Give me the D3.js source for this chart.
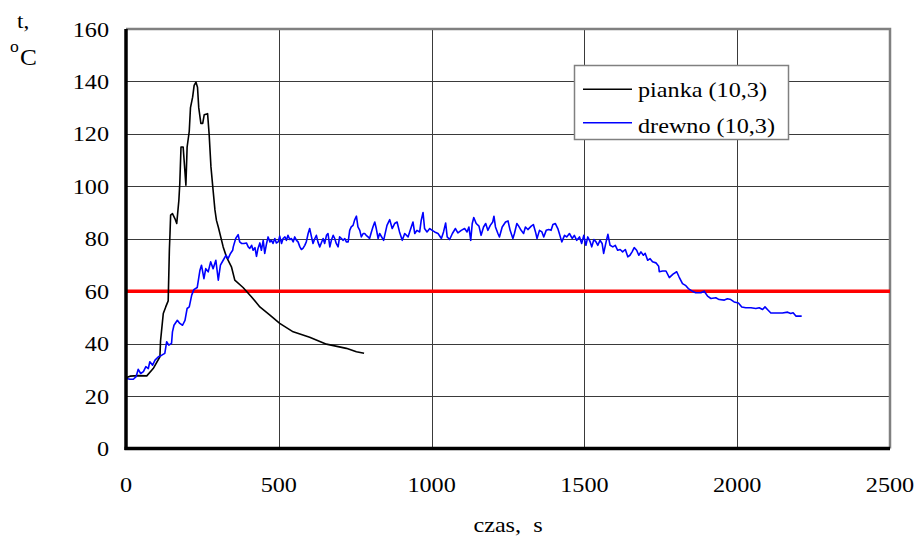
<!DOCTYPE html>
<html>
<head>
<meta charset="utf-8">
<script src="https://cdn.jsdelivr.net/npm/d3@7"></script>
<style>
  html, body { margin: 0; padding: 0; background: #fff; }
  svg { display: block; }
  text { font-family: "Liberation Serif", "Times New Roman", serif; fill: #000; }
</style>
</head>
<body>
<svg id="chart" width="919" height="536"></svg>
<script>
// Temperature over time for two samples, with the 60 °C limit line.
const xTicks = [0, 500, 1000, 1500, 2000, 2500];
const yTicks = [0, 20, 40, 60, 80, 100, 120, 140, 160];
const limitValue = 60;
const seriesNames = ["pianka (10,3)", "drewno (10,3)"];

// pianka (10,3): [time s, temperature °C]
const piankaTime = [0, 13, 40, 68, 89, 111, 113, 116, 122, 130, 138, 140, 142, 144, 146, 152, 160, 166, 169, 173, 176, 180, 187, 193, 196, 200, 207, 211, 218, 223, 229, 234, 238, 245, 251, 256, 267, 272, 278, 285, 291, 296, 302, 318, 329, 345, 356, 383, 411, 438, 471, 503, 547, 601, 656, 721, 754, 779];
const piankaTemp = [27, 27.6, 27.8, 27.7, 30.5, 35, 41, 44.5, 51.5, 54, 56.3, 66, 76, 82, 89, 89.6, 87.7, 85.8, 89.6, 94.7, 101, 115, 115, 105.4, 100.4, 115, 121, 130, 134, 138.5, 139.7, 137.8, 130, 124, 124, 127.3, 127.7, 120, 107.4, 98.5, 91, 87, 84.5, 76.9, 73, 69.3, 64.2, 61.4, 57.8, 54, 50.9, 47.7, 44.5, 42.4, 39.8, 38.2, 36.9, 36.3];

// drewno (10,3): [time s, temperature °C]
const drewnoTime = [2, 13, 24, 33, 40, 48, 57, 65, 73, 78, 87, 95, 106, 117, 127, 133, 140, 149, 152, 157, 168, 176, 185, 193, 200, 207, 215, 222, 233, 242, 247, 255, 261, 269, 277, 285, 294, 302, 309, 318, 327, 334, 342, 349,
  351, 359, 367, 372, 378, 386, 394, 400, 405, 411, 416, 422, 427, 432, 438, 443, 449, 454, 460, 465, 471, 476, 481, 487, 492, 498, 503, 509, 514, 520, 525, 530, 536, 541, 547, 552, 558, 563, 569, 574, 579, 585, 590, 596, 601, 607, 612, 618, 623, 628, 634, 639, 645, 650, 656, 661, 667, 672, 678, 683, 688, 694, 699, 705, 710, 716, 721, 727, 732, 737, 743, 748, 754, 759, 765, 770, 776, 781, 786, 792, 797, 803, 808, 814, 819, 825,
  830, 843, 854, 863, 871, 879, 887, 895, 904, 912, 923, 930, 939, 945, 952, 961, 966, 972, 977, 985, 994, 1002, 1010, 1021, 1032, 1039, 1046, 1051, 1059, 1068, 1078, 1086, 1097, 1108, 1116, 1122, 1128, 1133, 1138, 1146, 1155, 1162, 1170, 1177, 1184, 1192, 1200, 1204, 1209, 1217, 1222, 1231, 1242, 1250, 1257, 1266, 1271, 1279, 1285, 1293, 1301, 1307, 1315, 1326, 1333, 1340, 1345, 1353, 1361, 1367, 1375, 1383, 1391, 1397, 1405, 1413, 1418, 1426, 1435, 1442, 1451, 1460, 1467, 1475, 1484, 1491, 1498, 1505, 1511, 1519, 1524, 1531, 1538, 1544, 1551, 1558, 1563, 1571, 1577, 1584, 1593, 1601, 1609, 1617, 1625, 1634, 1642, 1649, 1656, 1663, 1671, 1678, 1685, 1693, 1699, 1707, 1715, 1723, 1734, 1743,
  1745, 1756, 1767, 1778, 1790, 1802, 1810, 1821, 1832, 1840, 1853, 1864, 1881, 1892, 1903, 1914, 1930, 1941, 1958, 1968, 1979, 1990, 2004, 2015, 2028, 2045, 2061, 2072, 2083, 2091, 2099, 2110, 2132, 2148, 2165, 2175, 2183, 2192, 2211];
const drewnoTemp = [26.7, 26.4, 26.4, 27.4, 30.2, 28.6, 29.3, 31.2, 30.5, 33.1, 31.8, 33.7, 35, 35.6, 36.3, 40.7, 39.4, 40.1, 44.5, 47, 48.9, 47.7, 47, 48.9, 53.4, 54, 58.5, 60.6, 61.4, 68, 69.9, 64.8, 68.6, 67.4, 71.2, 68.6, 71.8, 64.2, 69.9, 71.8, 73.7, 72.4, 74.4, 75.6,
  76.9, 80.1, 81.6, 78.8, 78.2, 78.2, 78.4, 76.9, 76.3, 77.5, 75.6, 76.6, 73.3, 76.3, 78.4, 75.6, 79.4, 74.4, 78.2, 80.7, 78.8, 79.4, 78.2, 80.1, 78.4, 78.8, 81, 78.2, 80.1, 80.7, 79.4, 81.3, 79.7, 80.1, 78.8, 80.7, 79.4, 78.8, 76.9, 75.9, 76.3, 77.5, 78.8, 82, 83.9, 80.7, 78.2, 80.1, 81.3, 78.8, 76.9, 78.4, 80.1, 78.2, 81.3, 82, 76.9, 79.4, 81.3, 80.1, 78.2, 76.9, 80.7, 80.1, 79.4, 80.1, 78.8, 78.8, 83.2, 84.5, 85.1, 87.1, 88.6, 84.5, 83.2, 80.7, 82, 82, 81.3, 80.7, 80.1, 82.6, 84.5, 86.4, 83.9, 80.1,
  82, 79.4, 85.1, 87.3, 83.9, 85.8, 86.4, 82.6, 79.4, 82, 80.7, 83.2, 86.4, 82, 83.2, 82.6, 87, 90, 83.9, 82.6, 83.9, 83.2, 82.6, 82, 80.1, 82.6, 86, 80.7, 79.7, 82, 83.9, 82.2, 83.2, 83.9, 82.6, 84.5, 79.4, 85.8, 88.1, 85.8, 84.8, 81.3, 84.5, 85.8, 83.2, 85.1, 86.4, 88.6, 84.5, 82, 80.7, 84.5, 86.4, 86.8, 83.2, 80.1, 82, 85.8, 84.8, 83.2, 82, 84.5, 83.5, 84.8, 85.4, 82.6, 80.1, 83.2, 82.6, 80.7, 83.2, 83.5, 83.2, 85.4, 85.8, 83.9, 82, 78.8, 81.3, 80.7, 82, 80.1, 81.3, 79.4, 80.7, 78.2, 81.3, 77.5, 80.7, 78.8, 76.9, 79.7, 78.8, 77.5, 79.4, 78.2, 74.4, 78.8, 81.7, 77.5, 76.9, 77.5, 75.6, 75.9, 75, 75.9, 73.1, 73.7, 75, 76.6, 75.6, 73.7, 75, 73.7, 74.4, 71.8, 72.4, 71.2, 70.8, 69.5,
  67.4, 67.7, 67.7, 65.2, 66.5, 67.4, 65.4, 62.9, 62.1, 61, 60, 59.4, 59.4, 60, 58.1, 57.2, 57.5, 56.8, 56.6, 57.1, 56.8, 55.9, 55.5, 54, 53.7, 53.7, 53.4, 53.7, 53, 54, 53, 51.7, 51.7, 51.7, 52, 51.5, 51.8, 50.5, 50.5];

const svg = d3.select("#chart");
const plotLeft = 126, plotRight = 890, plotTop = 29, plotBottom = 448.5;

const x = d3.scaleLinear().domain([0, 2500]).range([plotLeft, plotRight]);
const y = d3.scaleLinear().domain([0, 160]).range([plotBottom, plotTop]);

// Serif labels, widened slightly in the horizontal direction.
function label(parent, px, py, str, anchor, size) {
  const g = parent.append("g").attr("transform", `translate(${px},${py}) scale(1.1,1)`);
  return g.append("text").attr("text-anchor", anchor).style("font-size", size + "px").text(str);
}

// Grid
const grid = svg.append("g");
grid.selectAll("line.h").data(yTicks.filter(d => d > 0 && d < 160)).join("line")
  .attr("x1", plotLeft).attr("x2", plotRight)
  .attr("y1", d => Math.round(y(d)) + 0.5).attr("y2", d => Math.round(y(d)) + 0.5)
  .attr("stroke", "#3a3a3a").attr("stroke-width", 1);
grid.selectAll("line.v").data(xTicks.filter(d => d > 0 && d < 2500)).join("line")
  .attr("x1", d => Math.round(x(d)) + 0.5).attr("x2", d => Math.round(x(d)) + 0.5)
  .attr("y1", plotTop).attr("y2", plotBottom)
  .attr("stroke", "#3a3a3a").attr("stroke-width", 1);

// Top and right frame
svg.append("path")
  .attr("d", `M${plotLeft},${plotTop} H${plotRight} V${plotBottom}`)
  .attr("fill", "none").attr("stroke", "#808080").attr("stroke-width", 2.5);

// 60 °C limit
svg.append("line")
  .attr("x1", x(0)).attr("x2", x(2500))
  .attr("y1", y(limitValue)).attr("y2", y(limitValue))
  .attr("stroke", "#ff0000").attr("stroke-width", 3.5);

// Series
const line = d3.line().x(d => x(d[0])).y(d => y(d[1]));
const pianka = piankaTime.map((t, i) => [t, piankaTemp[i]]);
const drewno = drewnoTime.map((t, i) => [t, drewnoTemp[i]]);

svg.append("path").datum(pianka).attr("d", line)
  .attr("fill", "none").attr("stroke", "#000").attr("stroke-width", 1.6)
  .attr("stroke-linejoin", "round");
svg.append("path").datum(drewno).attr("d", line)
  .attr("fill", "none").attr("stroke", "#0000ff").attr("stroke-width", 1.6)
  .attr("stroke-linejoin", "round");

// Axes (left and bottom thick lines)
const xAxis = d3.axisBottom(x).tickValues(xTicks).tickSize(0).tickFormat(d3.format("d"));
const yAxis = d3.axisLeft(y).tickValues(yTicks).tickSize(0).tickFormat(d3.format("d"));

const gx = svg.append("g").attr("transform", `translate(0,${plotBottom})`).call(xAxis);
gx.select(".domain").attr("stroke", "#000").attr("stroke-width", 3.5)
  .attr("d", `M${plotLeft - 1.5},0H${plotRight}`);
gx.selectAll(".tick text").remove();
xTicks.forEach(t => label(svg, x(t), 491.5, String(t), "middle", 22));

const gy = svg.append("g").attr("transform", `translate(${plotLeft},0)`).call(yAxis);
gy.select(".domain").attr("stroke", "#000").attr("stroke-width", 3.5)
  .attr("d", `M0,${plotTop}V${plotBottom + 1.5}`);
gy.selectAll(".tick text").remove();
yTicks.forEach(t => label(svg, 109, y(t) + 7.5, String(t), "end", 22));

// Axis titles
label(svg, 17, 28, "t,", "start", 21);
label(svg, 10, 52, "o", "start", 16);
label(svg, 20, 65, "C", "start", 23);
label(svg, 508, 531.5, "czas,  s", "middle", 22).attr("xml:space", "preserve").style("white-space", "pre");

// Legend
const lg = svg.append("g");
lg.append("rect").attr("x", 574.5).attr("y", 65.5).attr("width", 214).attr("height", 74)
  .attr("fill", "#fff").attr("stroke", "#808080").attr("stroke-width", 1.5);
const legendColors = ["#000", "#0000ff"];
const legendLineY = [89.3, 122.7];
const legendTextY = [96.7, 132.5];
seriesNames.forEach((name, i) => {
  lg.append("line").attr("x1", 583).attr("x2", 632)
    .attr("y1", legendLineY[i]).attr("y2", legendLineY[i])
    .attr("stroke", legendColors[i]).attr("stroke-width", 1.6);
  label(lg, 638, legendTextY[i], name, "start", 22);
});
</script>
</body>
</html>
